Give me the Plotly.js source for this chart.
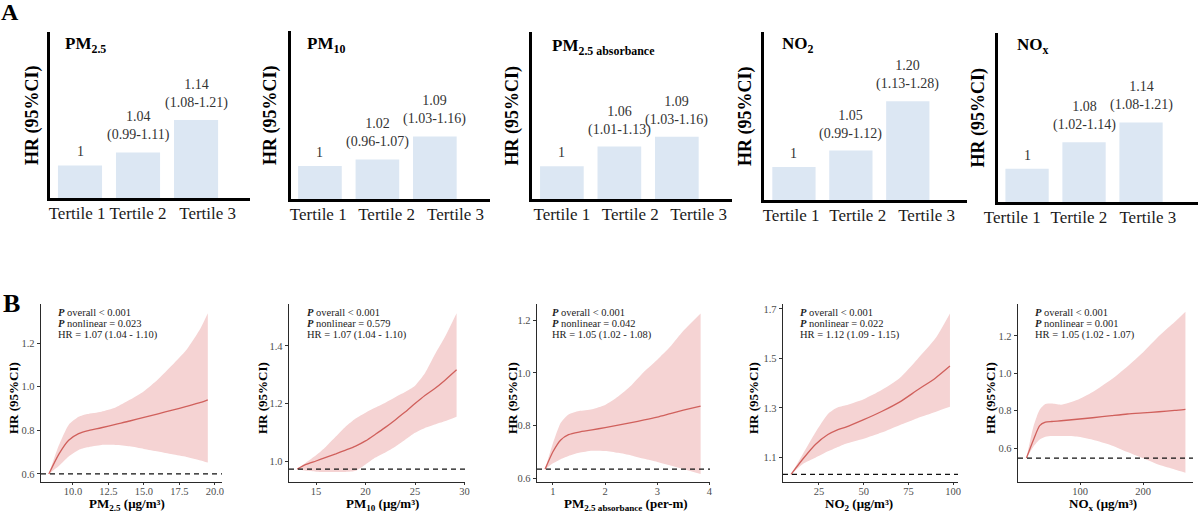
<!DOCTYPE html>
<html>
<head>
<meta charset="utf-8">
<script src="https://cdn.plot.ly/plotly-3.0.1.min.js"></script>
<style>
  html, body { margin: 0; padding: 0; background: #fff; }
  #chart { width: 1200px; height: 512px; }
</style>
</head>
<body>
<div id="chart"></div>
<script>
// ---------- Panel A: hazard ratios by exposure tertile ----------
const tertileLabels = ['Tertile 1', 'Tertile 2', 'Tertile 3'];

const hrPM25 = [1, 1.04, 1.14];
const loPM25 = [null, 0.99, 1.08];
const hiPM25 = [null, 1.11, 1.21];

const hrPM10 = [1, 1.02, 1.09];
const loPM10 = [null, 0.96, 1.03];
const hiPM10 = [null, 1.07, 1.16];

const hrAbs = [1, 1.06, 1.09];
const loAbs = [null, 1.01, 1.03];
const hiAbs = [null, 1.13, 1.16];

const hrNO2 = [1, 1.05, 1.20];
const loNO2 = [null, 0.99, 1.13];
const hiNO2 = [null, 1.12, 1.28];

const hrNOx = [1, 1.08, 1.14];
const loNOx = [null, 1.02, 1.08];
const hiNOx = [null, 1.14, 1.21];

// ---------- Panel B: restricted cubic spline curves ----------
const pm25X     = [8.3, 9.0, 9.7, 10.4, 11.0, 12.0, 13.0, 14.0, 15.0, 16.0, 17.0, 18.0, 19.0, 19.5];
const pm25Fit   = [0.60, 0.69, 0.755, 0.785, 0.798, 0.812, 0.828, 0.843, 0.86, 0.876, 0.893, 0.91, 0.928, 0.94];
const pm25Upper = [0.60, 0.73, 0.825, 0.862, 0.875, 0.886, 0.905, 0.94, 0.98, 1.035, 1.10, 1.17, 1.27, 1.337];
const pm25Lower = [0.60, 0.636, 0.68, 0.71, 0.722, 0.733, 0.733, 0.727, 0.715, 0.703, 0.69, 0.678, 0.662, 0.652];

const pm10X     = [13.1, 14, 15, 16, 17, 18, 19, 20, 21, 22, 23, 24, 25, 26, 27, 28, 29.2];
const pm10Fit   = [0.972, 0.988, 1.0, 1.013, 1.025, 1.038, 1.052, 1.07, 1.093, 1.117, 1.143, 1.17, 1.2, 1.228, 1.252, 1.28, 1.317];
const pm10Upper = [0.972, 0.995, 1.02, 1.05, 1.085, 1.12, 1.148, 1.168, 1.186, 1.203, 1.222, 1.24, 1.262, 1.305, 1.37, 1.43, 1.514];
const pm10Lower = [0.972, 0.966, 0.963, 0.962, 0.962, 0.962, 0.966, 0.988, 1.012, 1.03, 1.05, 1.074, 1.098, 1.115, 1.127, 1.138, 1.154];

const absX     = [0.85, 1.0, 1.15, 1.3, 1.5, 1.75, 2.0, 2.25, 2.5, 2.75, 3.0, 3.25, 3.5, 3.83];
const absFit   = [0.634, 0.70, 0.745, 0.765, 0.775, 0.783, 0.792, 0.801, 0.811, 0.821, 0.832, 0.845, 0.858, 0.874];
const absUpper = [0.634, 0.732, 0.81, 0.842, 0.855, 0.862, 0.878, 0.91, 0.952, 1.005, 1.05, 1.10, 1.16, 1.226];
const absLower = [0.634, 0.656, 0.672, 0.684, 0.696, 0.704, 0.703, 0.696, 0.686, 0.673, 0.661, 0.648, 0.634, 0.615];

const no2X     = [9.4, 16, 23, 30, 35, 40, 50, 60, 70, 80, 90, 98.2];
const no2Fit   = [1.031, 1.093, 1.152, 1.192, 1.21, 1.222, 1.252, 1.285, 1.323, 1.372, 1.42, 1.469];
const no2Upper = [1.031, 1.113, 1.20, 1.275, 1.30, 1.31, 1.335, 1.372, 1.42, 1.497, 1.58, 1.682];
const no2Lower = [1.031, 1.073, 1.098, 1.124, 1.14, 1.155, 1.175, 1.20, 1.23, 1.258, 1.283, 1.304];

const noxX     = [15, 26, 36, 45, 55, 70, 95, 120, 150, 175, 200, 225, 250, 267];
const noxFit   = [0.546, 0.643, 0.72, 0.738, 0.742, 0.746, 0.754, 0.762, 0.773, 0.782, 0.788, 0.794, 0.801, 0.807];
const noxUpper = [0.546, 0.714, 0.805, 0.835, 0.838, 0.832, 0.857, 0.90, 0.968, 1.037, 1.113, 1.20, 1.275, 1.33];
const noxLower = [0.546, 0.607, 0.645, 0.66, 0.664, 0.664, 0.661, 0.644, 0.614, 0.579, 0.545, 0.51, 0.485, 0.468];

const pOverall   = ['< 0.001', '< 0.001', '< 0.001', '< 0.001', '< 0.001'];
const pNonlinear = ['0.023', '0.579', '0.042', '0.022', '0.001'];
const linearHR   = ['1.07 (1.04 - 1.10)', '1.07 (1.04 - 1.10)', '1.05 (1.02 - 1.08)', '1.12 (1.09 - 1.15)', '1.05 (1.02 - 1.07)'];

// ---------- layout helpers (pixel boxes -> paper fractions) ----------
const W = 1200, H = 512;
const fx = p => p / W;
const fy = p => 1 - p / H;
const suffix = k => (k === 1 ? '' : String(k));
const FONT = 'Liberation Serif, Times New Roman, serif';

const topPanels = [
  { title: 'PM<sub>2.5</sub>', hr: hrPM25, lo: loPM25, hi: hiPM25, box: [50, 250, 32, 198], xr: [-0.517, 2.93], tickPos: [-0.05, 1.0, 2.2], titleXY: [63, 45], yTitleX: 32 },
  { title: 'PM<sub>10</sub>', hr: hrPM10, lo: loPM10, hi: hiPM10, box: [291, 490, 31, 199], xr: [-0.504, 2.96], tickPos: [-0.03, 1.16, 2.36], titleXY: [305, 45], yTitleX: 270 },
  { title: 'PM<sub>2.5 absorbance</sub>', hr: hrAbs, lo: loAbs, hi: hiAbs, box: [532, 732, 32, 199], xr: [-0.52, 2.96], tickPos: [0, 1.19, 2.38], titleXY: [550, 47], yTitleX: 512 },
  { title: 'NO<sub>2</sub>', hr: hrNO2, lo: loNO2, hi: hiNO2, box: [764, 967, 32, 200], xr: [-0.526, 3.04], tickPos: [-0.05, 1.12, 2.33], titleXY: [780, 45], yTitleX: 745 },
  { title: 'NO<sub>x</sub>', hr: hrNOx, lo: loNOx, hi: hiNOx, box: [998, 1198, 33, 202], xr: [-0.51, 3.0], tickPos: [-0.26, 0.91, 2.12], titleXY: [1015, 46], yTitleX: 978 }
];

const bottomPanels = [
  { x: pm25X, fit: pm25Fit, up: pm25Upper, lo: pm25Lower, box: [41, 222, 304, 482], xr: [7.75, 20.5], yr: [0.563, 1.38],
    xt: [10, 12.5, 15, 17.5, 20], xfmt: '.1f', yt: [0.6, 0.8, 1.0, 1.2], xTitle: 'PM<sub>2.5</sub> (μg/m³)', xTitleX: 127, yTitleX: 13, statX: 56 },
  { x: pm10X, fit: pm10Fit, up: pm10Upper, lo: pm10Lower, box: [289, 465, 304, 482], xr: [12.27, 30.05], yr: [0.927, 1.546],
    xt: [15, 20, 25, 30], xfmt: 'd', yt: [1.0, 1.2, 1.4], xTitle: 'PM<sub>10</sub> (μg/m³)', xTitleX: 382, yTitleX: 262, statX: 305 },
  { x: absX, fit: absFit, up: absUpper, lo: absLower, box: [537, 710, 304, 482], xr: [0.695, 4.01], yr: [0.585, 1.262],
    xt: [1, 2, 3, 4], xfmt: 'd', yt: [0.6, 0.8, 1.0, 1.2], xTitle: 'PM<sub>2.5 absorbance</sub> (per-m)', xTitleX: 626, yTitleX: 512, statX: 550 },
  { x: no2X, fit: no2Fit, up: no2Upper, lo: no2Lower, box: [783, 958, 304, 482], xr: [4.9, 102.7], yr: [1.0, 1.72],
    xt: [25, 50, 75, 100], xfmt: 'd', yt: [1.1, 1.3, 1.5, 1.7], xTitle: 'NO<sub>2</sub> (μg/m³)', xTitleX: 859, yTitleX: 753, statX: 798 },
  { x: noxX, fit: noxFit, up: noxUpper, lo: noxLower, box: [1018, 1193, 304, 482], xr: [1.6, 279], yr: [0.418, 1.371],
    xt: [100, 200], xfmt: 'd', yt: [0.6, 0.8, 1.0, 1.2], xTitle: 'NO<sub>x</sub> (μg/m³)', xTitleX: 1103, yTitleX: 990, statX: 1033 }
];

const traces = [];
const layout = {
  width: W, height: H,
  margin: { l: 0, r: 0, t: 0, b: 0 },
  paper_bgcolor: '#ffffff',
  plot_bgcolor: 'rgba(0,0,0,0)',
  showlegend: false,
  font: { family: FONT, color: '#222' },
  annotations: [],
  shapes: []
};

function paperText(text, x, y, opts) {
  layout.annotations.push(Object.assign({
    xref: 'paper', yref: 'paper', x: fx(x), y: fy(y),
    text: text, showarrow: false, xanchor: 'center', yanchor: 'middle'
  }, opts || {}));
}

// Panel letters
paperText('A', 10, 12, { font: { family: FONT, size: 24, color: '#000', weight: 'bold' } });
paperText('B', 11, 303, { font: { family: FONT, size: 26, color: '#000', weight: 'bold' } });

// ---------- top row: bar charts ----------
topPanels.forEach((p, i) => {
  const k = i + 1, s = suffix(k);
  const [x0, x1, y0, y1] = p.box;
  const pos = tertileLabels.map((_, j) => j);

  traces.push({
    type: 'bar', x: pos, y: p.hr, xaxis: 'x' + s, yaxis: 'y' + s,
    width: 0.76, marker: { color: '#dce7f3', line: { width: 0 } }, hoverinfo: 'skip'
  });

  layout['xaxis' + s] = {
    domain: [fx(x0), fx(x1)], range: p.xr, anchor: 'y' + s,
    showline: true, linecolor: '#000', linewidth: 3, mirror: false,
    showgrid: false, zeroline: false, ticks: '', ticklabelstandoff: -2,
    tickmode: 'array', tickvals: p.tickPos, ticktext: tertileLabels,
    tickfont: { family: FONT, size: 17, color: '#1a1a1a' }, fixedrange: true
  };
  layout['yaxis' + s] = {
    domain: [fy(y1), fy(y0)], range: [0.9, 1.41], anchor: 'x' + s,
    showline: true, linecolor: '#000', linewidth: 3,
    showgrid: false, zeroline: false, showticklabels: false, ticks: '', fixedrange: true
  };

  // value labels above bars
  p.hr.forEach((v, j) => {
    const twoLine = p.lo[j] !== null;
    const txt = twoLine
      ? v.toFixed(2) + '<br>(' + p.lo[j].toFixed(2) + '-' + p.hi[j].toFixed(2) + ')'
      : String(v);
    layout.annotations.push({
      xref: 'x' + s, yref: 'y' + s, x: pos[j], y: v, text: txt, showarrow: false,
      xanchor: 'center', yanchor: 'bottom', yshift: twoLine ? 7 : 4,
      font: { family: FONT, size: 14, color: '#333' }
    });
  });

  paperText(p.title, p.titleXY[0], p.titleXY[1], { xanchor: 'left', font: { family: FONT, size: 17, color: '#000', weight: 'bold' } });
  paperText('HR (95%CI)', p.yTitleX, (y0 + y1) / 2, { textangle: -90, font: { family: FONT, size: 18, color: '#000', weight: 'bold' } });
});

// ---------- bottom row: dose-response curves ----------
bottomPanels.forEach((p, i) => {
  const k = i + 6, s = suffix(k);
  const [x0, x1, y0, y1] = p.box;
  const xa = 'x' + s, ya = 'y' + s;

  traces.push({
    type: 'scatter', mode: 'lines', x: p.x, y: p.lo, xaxis: xa, yaxis: ya,
    line: { width: 0, shape: 'spline', smoothing: 0.6 }, hoverinfo: 'skip'
  });
  traces.push({
    type: 'scatter', mode: 'lines', x: p.x, y: p.up, xaxis: xa, yaxis: ya,
    fill: 'tonexty', fillcolor: '#f5d3d3',
    line: { width: 0, shape: 'spline', smoothing: 0.6 }, hoverinfo: 'skip'
  });
  traces.push({
    type: 'scatter', mode: 'lines', x: p.x, y: p.fit, xaxis: xa, yaxis: ya,
    line: { color: '#d0605c', width: 1.3, shape: 'spline', smoothing: 0.6 }, hoverinfo: 'skip'
  });

  const common = {
    showline: true, linecolor: '#2a2a2a', linewidth: 1.4,
    showgrid: false, zeroline: false,
    ticks: 'outside', tickwidth: 1, tickcolor: '#333',
    tickfont: { family: FONT, size: 10.5, color: '#4d4d4d' }, fixedrange: true
  };
  layout['xaxis' + s] = Object.assign({
    domain: [fx(x0), fx(x1)], range: p.xr, anchor: ya, ticklen: 2, ticklabelstandoff: -3,
    tickmode: 'array', tickvals: p.xt, tickformat: p.xfmt
  }, common);
  layout['yaxis' + s] = Object.assign({
    domain: [fy(y1), fy(y0)], range: p.yr, anchor: xa, ticklen: 3,
    tickmode: 'array', tickvals: p.yt, tickformat: '.1f'
  }, common);

  // reference line at the curve's starting HR
  layout.shapes.push({
    type: 'line', xref: xa + ' domain', x0: 0, x1: 1, yref: ya, y0: p.fit[0], y1: p.fit[0],
    line: { color: '#111', width: 1.3, dash: '5px,4px' }, layer: 'above'
  });

  const statFont = { family: FONT, size: 10.5, color: '#222' };
  paperText('<b><i>P</i></b> overall &lt; ' + pOverall[i].replace('< ', ''), p.statX, 312, { xanchor: 'left', font: statFont });
  paperText('<b><i>P</i></b> nonlinear = ' + pNonlinear[i], p.statX, 323.5, { xanchor: 'left', font: statFont });
  paperText('HR = ' + linearHR[i], p.statX, 335, { xanchor: 'left', font: statFont });

  paperText('HR (95%CI)', p.yTitleX, 398, { textangle: -90, font: { family: FONT, size: 13, color: '#000', weight: 'bold' } });
  paperText(p.xTitle, p.xTitleX, 504, { font: { family: FONT, size: 13, color: '#000', weight: 'bold' } });
});

Plotly.newPlot('chart', traces, layout, { displayModeBar: false, staticPlot: true });
</script>
</body>
</html>
